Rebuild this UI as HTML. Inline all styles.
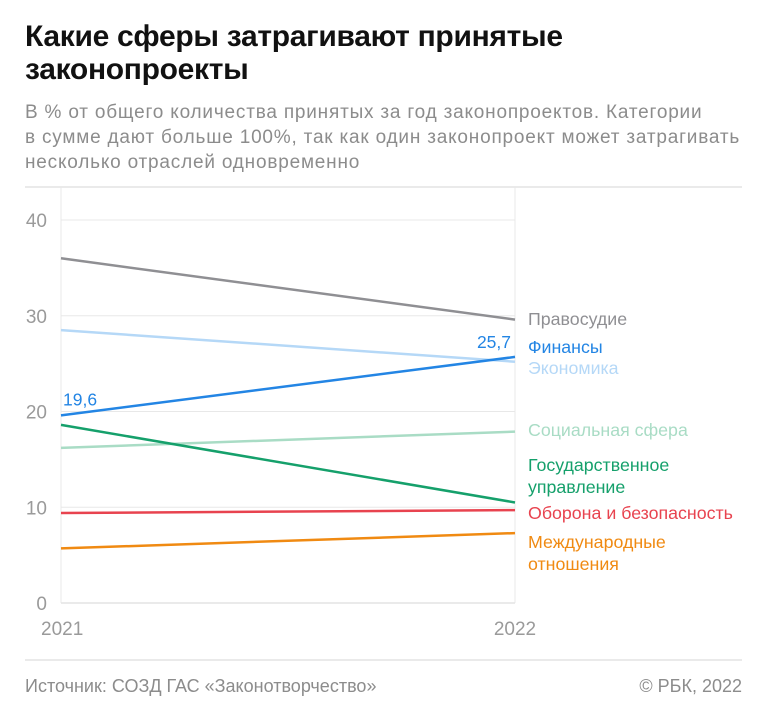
<!DOCTYPE html>
<html><head><meta charset="utf-8"><style>
body{margin:0;background:#fff;width:768px;height:715px;overflow:hidden;font-family:"Liberation Sans","Noto Sans CJK SC",sans-serif}
#title{position:absolute;left:25px;top:20px;font-size:30px;font-weight:bold;line-height:33px;color:#111;letter-spacing:-0.3px}
#sub{position:absolute;left:25px;top:100px;font-size:19px;letter-spacing:0.8px;line-height:25px;color:#8c8c8c;white-space:nowrap}
</style></head><body>
<div id="title">Какие сферы затрагивают принятые<br>законопроекты</div>
<div id="sub">В % от общего количества принятых за год законопроектов. Категории<br>в сумме дают больше 100%, так как один законопроект может затрагивать<br>несколько отраслей одновременно</div>
<svg id="chart" width="768" height="715" style="position:absolute;left:0;top:0"></svg>
<script>
const years=["2021","2022"];
const yTicks=[0,10,20,30,40];
const names=["Правосудие","Экономика","Финансы","Социальная сфера","Государственное|управление","Оборона и безопасность","Международные|отношения"];
const v2021=[36.0,28.5,19.6,16.2,18.6,9.4,5.7];
const v2022=[29.6,25.2,25.7,17.9,10.5,9.7,7.3];
const colors=["#8f8f93","#b5d8f7","#2385e4","#a9dcc5","#15a06b","#e8434f","#f08a12"];
const labelY=[325,374,353,436,471,519,548];
const NS="http://www.w3.org/2000/svg";
const svg=document.getElementById('chart');
const x0=61,x1=515,yb=603,yt=220;
const X=i=>x0+i*(x1-x0);
const Y=v=>yb-(v/40)*(yb-yt);
function mk(t,a,txt){const e=document.createElementNS(NS,t);for(const k in a)e.setAttribute(k,a[k]);if(txt!=null)e.textContent=txt;svg.appendChild(e);return e;}
let e;
e=mk('line',{x1:25,x2:742,y1:187,y2:187,stroke:'#e4e4e4','stroke-width':1.5});


e=mk('line',{x1:25,x2:742,y1:660,y2:660,stroke:'#e4e4e4','stroke-width':1.5});


yTicks.forEach(t=>{
 if(t>0){e=mk('line',{x1:x0,x2:x1,y1:Y(t),y2:Y(t),stroke:'#e8e8e8','stroke-width':1});
 
 }
 e=mk('text',{x:47,y:Y(t)+7,'text-anchor':'end','font-size':19,fill:'#9a9a9a'},String(t));
 
 
});
[0,1].forEach(i=>{e=mk('line',{x1:X(i),x2:X(i),y1:187,y2:yb,stroke:'#e8e8e8','stroke-width':1});
 
 
 e=mk('text',{x:X(i)+(i?0:-20),y:635,'text-anchor':i?'middle':'start','font-size':19,fill:'#9a9a9a'},years[i]);
 
 });
e=mk('line',{x1:x0,x2:x1,y1:yb,y2:yb,stroke:'#e4e4e4','stroke-width':1.5});


const order=[0,1,3,4,5,6,2];
order.forEach(i=>{
 e=mk('line',{x1:X(0),y1:Y(v2021[i]),x2:X(1),y2:Y(v2022[i]),stroke:colors[i],'stroke-width':2.5});
 
 
 const parts=names[i].split('|');
 parts.forEach((p,k)=>{e=mk('text',{x:528,y:labelY[i]+k*22,'font-size':17.8,fill:colors[i]},p);
 
 });
});
e=mk('text',{x:63,y:Y(v2021[2])-10,'font-size':17.5,fill:colors[2]},String(v2021[2]).replace('.',','));


e=mk('text',{x:511,y:Y(v2022[2])-9,'text-anchor':'end','font-size':17.5,fill:colors[2]},String(v2022[2]).replace('.',','));


e=mk('text',{x:25,y:692,'font-size':18,fill:'#8c8c8c'},'Источник: СОЗД ГАС «Законотворчество»');


e=mk('text',{x:742,y:692,'text-anchor':'end','font-size':18,fill:'#8c8c8c'},'© РБК, 2022');


</script>
</body></html>
